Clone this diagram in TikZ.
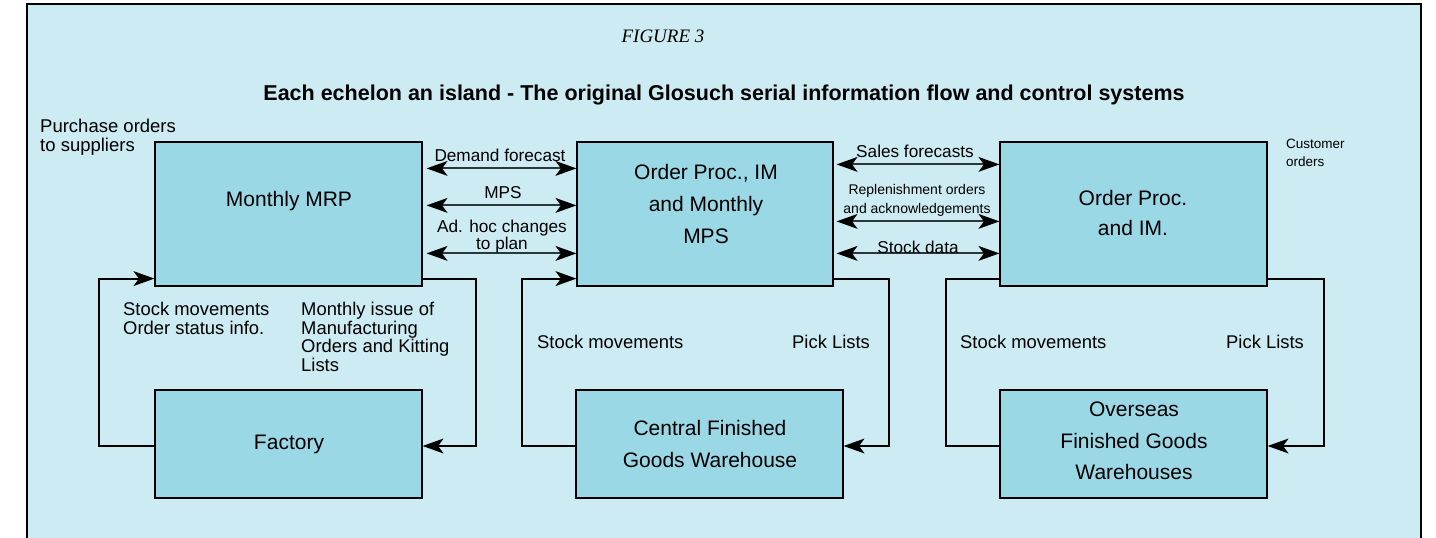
\documentclass[tikz,border=0pt]{standalone}
\usepackage{fontspec}
\setmainfont{Liberation Serif}
\setsansfont{Liberation Sans}
\usetikzlibrary{arrows.meta,calc}
\definecolor{bgc}{RGB}{204,235,242}
\definecolor{boxc}{RGB}{154,216,230}
\definecolor{linec}{RGB}{45,55,58}
\begin{document}
\begin{tikzpicture}[x=1pt,y=-1pt,
  box/.style={draw=black,line width=1.2pt,fill=boxc,inner sep=0pt},
  btxt/.style={font=\sffamily\fontsize{21}{31.7}\selectfont,align=center,inner sep=0pt},
  lbl/.style={font=\sffamily\fontsize{18.4}{18.7}\selectfont,align=left,inner sep=0pt},
  tlbl/.style={font=\sffamily\fontsize{17.2}{15.5}\selectfont,align=center,inner sep=0pt},
  slbl/.style={font=\sffamily\fontsize{14}{19}\selectfont,align=center,inner sep=0pt},
  arr/.style={line width=2pt,-{Stealth[length=21pt,width=15pt,inset=5.5pt,line width=0pt,fill=black]}},
  darr/.style={line width=2pt,draw=linec,{Stealth[length=21pt,width=15pt,inset=5.5pt,line width=0pt,fill=black]}-{Stealth[length=21pt,width=15pt,inset=5.5pt,line width=0pt,fill=black]}},
  loopline/.style={line width=2pt}]
\useasboundingbox (0,0) rectangle (1436,538);
\fill[white] (0,0) rectangle (1436,538);
\fill[bgc] (27,4) rectangle (1421,540);
\draw[line width=1.3pt] (27,545) -- (27,4) -- (1421,4) -- (1421,545);

% titles
\node[font=\rmfamily\itshape\fontsize{19}{22}\selectfont,inner sep=0pt,anchor=base] (fig) at (663,42.7) {FIGURE 3};
\node[font=\sffamily\bfseries\fontsize{21.5}{24}\selectfont,inner sep=0pt,anchor=base] (title) at (724,100) {Each echelon an island - The original Glosuch serial information flow and control systems};

% boxes
\node[box,minimum width=267pt,minimum height=144pt] (mrp) at (288.5,214) {};
\node[box,minimum width=256pt,minimum height=144pt] (ctr) at (705,214) {};
\node[box,minimum width=267pt,minimum height=144pt] (rgt) at (1133.5,214) {};
\node[box,minimum width=267pt,minimum height=108pt] (fac) at (288.5,444) {};
\node[box,minimum width=267pt,minimum height=108pt] (cfg) at (709.5,444) {};
\node[box,minimum width=267pt,minimum height=108pt] (ovs) at (1133.5,444) {};

% box texts
\node[btxt,anchor=base] (mrpt) at (289,206.5) {Monthly MRP};
\node[btxt,anchor=north] (ctrt) at (706,164.3) {Order Proc., IM\\and Monthly\\MPS};
\node[btxt,anchor=north,font=\sffamily\fontsize{21}{30.5}\selectfont] (rgtt) at (1133,189.8) {Order Proc.\\and IM.};
\node[btxt,anchor=base] (fact) at (289,449.3) {Factory};
\node[btxt,anchor=north] (cfgt) at (710,420.5) {Central Finished\\Goods Warehouse};
\node[btxt,anchor=north] (ovst) at (1134,401.5) {Overseas\\Finished Goods\\Warehouses};

% horizontal two-way arrows, left pair
\draw[darr] ($(mrp.north east)+(4,27)$) -- ($(ctr.north west)+(0,27)$);
\draw[darr] ($(mrp.north east)+(4,64)$) -- ($(ctr.north west)+(0,64)$);
\draw[darr] ($(mrp.north east)+(4,112)$) -- ($(ctr.north west)+(0,112)$);
\node[tlbl,anchor=base] (l1) at (500,161) {Demand forecast};
\node[tlbl,anchor=base] (l2) at (503,198) {MPS};
\node[tlbl,anchor=north] (l3) at (502,220.3) {Ad. hoc changes\\to plan};

% horizontal two-way arrows, right pair
\draw[darr] ($(ctr.north east)+(3,23)$) -- ($(rgt.north west)+(0,23)$);
\draw[darr] ($(ctr.north east)+(3,80)$) -- ($(rgt.north west)+(0,80)$);
\draw[darr] ($(ctr.north east)+(3,112)$) -- ($(rgt.north west)+(0,112)$);
\node[tlbl,anchor=base] (r1) at (915,157) {Sales forecasts};
\node[slbl,anchor=north] (r2) at (917,184) {Replenishment orders\\and acknowledgements};
\node[tlbl,anchor=base] (r3) at (918,253) {Stock data};

% loops
\draw[arr] ($(fac.west)+(0,2)$) -- ++(-55,0) |- ($(mrp.south west)+(0,-8)$);
\draw[arr] ($(mrp.south east)+(0,-8)$) -- ++(53,0) |- ($(fac.east)+(0,2)$);
\draw[arr] ($(cfg.west)+(0,2)$) -- ++(-53,0) |- ($(ctr.south west)+(0,-8)$);
\draw[arr] ($(ctr.south east)+(0,-8)$) -- ++(55,0) |- ($(cfg.east)+(0,2)$);
\draw[loopline] ($(ovs.west)+(0,2)$) -- ++(-53,0) |- ($(rgt.south west)+(0,-8)$);
\draw[arr] ($(rgt.south east)+(0,-8)$) -- ++(56,0) |- ($(ovs.east)+(0,2)$);

% loop labels
\node[lbl,anchor=north west] (b1) at (123,302) {Stock movements\\Order status info.};
\node[lbl,anchor=north west] (b2) at (301,302) {Monthly issue of\\Manufacturing\\Orders and Kitting\\Lists};
\node[lbl,anchor=base west] (b3) at (537,348.3) {Stock movements};
\node[lbl,anchor=base west] (b4) at (792,348.3) {Pick Lists};
\node[lbl,anchor=base west] (b5) at (960,348.3) {Stock movements};
\node[lbl,anchor=base west] (b6) at (1226,348.3) {Pick Lists};

% corner texts
\node[lbl,anchor=north west,font=\sffamily\fontsize{18.5}{19}\selectfont] (po) at (40,118.7) {Purchase orders\\to suppliers};
\node[lbl,anchor=north west,font=\sffamily\fontsize{13.5}{18.4}\selectfont] (co) at (1286,138.4) {Customer\\orders};
\end{tikzpicture}
\end{document}
